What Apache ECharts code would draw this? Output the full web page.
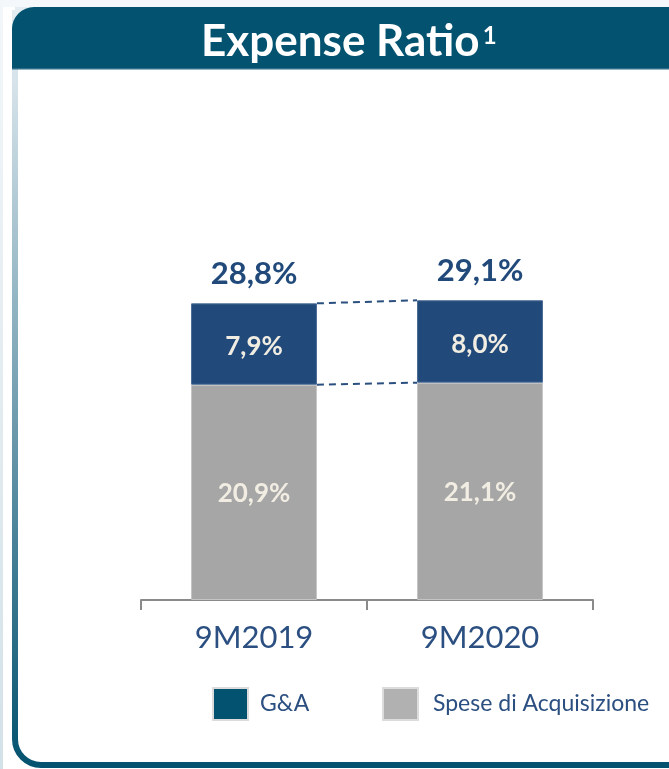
<!DOCTYPE html>
<html>
<head>
<meta charset="utf-8">
<script src="https://cdn.jsdelivr.net/npm/echarts@6/dist/echarts.min.js"></script>
<style>
html,body{margin:0;padding:0;background:#ffffff;}
#chart{width:669px;height:769px;}
</style>
</head>
<body>
<div id="chart"></div>
<script>
// ---- data ----
var categories = ['9M2019', '9M2020'];
var acquisitionCosts = [20.9, 21.1];   // Spese di Acquisizione
var gaCosts = [7.9, 8.0];              // G&A
var totals = [28.8, 29.1];             // Expense Ratio
var seriesNames = ['G&A', 'Spese di Acquisizione'];
var titleText = 'Expense Ratio';
var titleNote = '1';

var FONT = 'Lato, "Noto Sans", sans-serif';
var BAR_FRAC = 0.557;
function fmt(v) { return v.toFixed(1).replace('.', ',') + '%'; }

var chart = echarts.init(document.getElementById('chart'), null, {renderer: 'canvas'});

var option = {
  animation: false,
  backgroundColor: '#ffffff',
  title: {
    text: '{a|' + titleText + '}{b|' + titleNote + '}',
    left: 201,
    top: 18,
    padding: 0,
    z: 20,
    textStyle: {
      rich: {
        a: {fontFamily: FONT, fontWeight: 'bold', fontSize: 44, color: '#ffffff', lineHeight: 48},
        b: {fontFamily: FONT, fontWeight: 'bold', fontSize: 24, color: '#ffffff', verticalAlign: 'top', lineHeight: 26, padding: [6, 0, 0, 3]}
      }
    }
  },
  graphic: [
    {type: 'rect', z: -10, shape: {x: 0, y: 0, width: 669, height: 7}, style: {fill: '#f5f8fa'}},
    {type: 'rect', z: -10, shape: {x: 0, y: 0, width: 3, height: 769},
      style: {fill: new echarts.graphic.LinearGradient(0, 0, 0, 1, [{offset: 0, color: '#f3f7f9'}, {offset: 1, color: '#d3e1e8'}])}},
    {type: 'rect', z: -9, shape: {x: 15, y: 10, width: 720, height: 755, r: [0, 0, 0, 26]},
      style: {fill: '#ffffff', lineWidth: 6,
        stroke: new echarts.graphic.LinearGradient(0, 0, 0, 1, [
          {offset: 0, color: '#e4edf1'}, {offset: 0.1, color: '#d6e3ea'}, {offset: 1, color: '#03526f'}])}},
    {type: 'rect', z: -8, shape: {x: 12, y: 7, width: 700, height: 62, r: [22, 0, 0, 0]},
      style: {fill: '#03526f'}},
    {type: 'rect', z: -8, shape: {x: 12, y: 68, width: 700, height: 1.5}, style: {fill: '#2f6c88'}}
  ],
  legend: [
    {
      left: 212, top: 687, padding: 0, icon: 'rect', itemWidth: 35, itemHeight: 32,
      selectedMode: false,
      itemStyle: {borderColor: '#dcdcdc', borderWidth: 2},
      textStyle: {fontFamily: FONT, fontSize: 23, color: '#2b4f80', padding: [0, 0, 0, 7]},
      data: [{name: seriesNames[0], itemStyle: {color: '#03526f', borderColor: '#dcdcdc', borderWidth: 2}}]
    },
    {
      left: 382, top: 687, padding: 0, icon: 'rect', itemWidth: 35, itemHeight: 32,
      selectedMode: false,
      itemStyle: {borderColor: '#dcdcdc', borderWidth: 2},
      textStyle: {fontFamily: FONT, fontSize: 23, color: '#2b4f80', padding: [0, 0, 0, 10]},
      data: [{name: seriesNames[1], itemStyle: {color: '#b1b1b1', borderColor: '#dcdcdc', borderWidth: 2}}]
    }
  ],
  grid: {left: 141, right: 76, top: 188, bottom: 169, containLabel: false},
  xAxis: {
    type: 'category',
    data: categories,
    axisLine: {lineStyle: {color: '#8a8a8a', width: 2}},
    axisTick: {show: true, length: 10, lineStyle: {color: '#8a8a8a', width: 2}},
    axisLabel: {fontFamily: FONT, fontSize: 31, color: '#2b4f80', margin: 22}
  },
  yAxis: {type: 'value', min: 0, max: 40, show: false, splitLine: {show: false}},
  series: [
    {
      name: seriesNames[1], type: 'bar', stack: 'er', barWidth: (BAR_FRAC * 100) + '%',
      data: acquisitionCosts,
      itemStyle: {color: '#a6a6a6', borderColor: '#c4c4c4', borderWidth: 1},
      label: {show: true, position: 'inside', offset: [0, 1], formatter: function (p) { return fmt(p.value); },
        fontFamily: FONT, fontWeight: 'bold', fontSize: 26, color: '#f1ede2'}
    },
    {
      name: seriesNames[0], type: 'bar', stack: 'er', barWidth: (BAR_FRAC * 100) + '%',
      data: gaCosts,
      itemStyle: {color: '#214a7b', borderColor: '#4a6a93', borderWidth: 1},
      label: {show: true, position: 'inside', offset: [0, 3], formatter: function (p) { return fmt(p.value); },
        fontFamily: FONT, fontWeight: 'bold', fontSize: 26, color: '#f1ede2'}
    },
    {
      name: 'connectors', type: 'custom', z: 5,
      data: categories.map(function (c, i) { return [i, totals[i]]; }),
      encode: {x: 0, y: 1},
      renderItem: function (params, api) {
        var i = params.dataIndex;
        var p = api.coord([i, totals[i]]);
        var children = [{
          type: 'text',
          style: {x: p[0], y: p[1] - 29, text: fmt(totals[i]), align: 'center', verticalAlign: 'middle',
            fontFamily: FONT, fontWeight: 'bold', fontSize: 31, fill: '#214a7b'}
        }];
        if (i < categories.length - 1) {
          var half = api.size([1, 0])[0] * BAR_FRAC / 2;
          var a1 = api.coord([i, totals[i]]), b1 = api.coord([i + 1, totals[i + 1]]);
          var a2 = api.coord([i, acquisitionCosts[i]]), b2 = api.coord([i + 1, acquisitionCosts[i + 1]]);
          var ls = {stroke: '#2b5080', lineWidth: 2, lineDash: [7, 5]};
          children.push({type: 'line', shape: {x1: a1[0] + half, y1: a1[1], x2: b1[0] - half, y2: b1[1]}, style: ls});
          children.push({type: 'line', shape: {x1: a2[0] + half, y1: a2[1], x2: b2[0] - half, y2: b2[1]}, style: ls});
        }
        return {type: 'group', children: children};
      }
    }
  ]
};
chart.setOption(option);
</script>
</body>
</html>
